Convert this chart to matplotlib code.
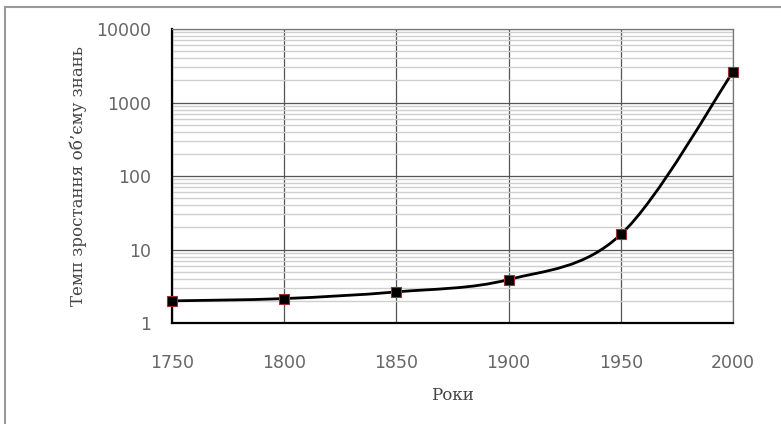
import numpy as np
import matplotlib
matplotlib.use('Agg')
import matplotlib.pyplot as plt
from matplotlib.path import Path
from matplotlib.patches import PathPatch
from matplotlib.lines import Line2D

years = [1750, 1800, 1850, 1900, 1950, 2000]
rate = [2.0, 2.15, 2.65, 3.9, 16.0, 2600.0]
xticks = [1750, 1800, 1850, 1900, 1950, 2000]
yticks = [1, 10, 100, 1000, 10000]
xlabel = 'Роки'
ylabel = 'Темп зростання об\u2019єму знань'

fig = plt.figure(figsize=(7.81, 4.24), dpi=100)
ax = fig.add_axes([0.2202, 0.2382, 0.9385 - 0.2202, 0.9316 - 0.2382])
ax.set_yscale('log')
ax.set_xlim(1750, 2000)
ax.set_ylim(1, 10000)

# grid
ax.set_xticks(xticks)
ax.set_yticks(yticks)
ax.set_yticklabels([str(v) for v in yticks])
ax.yaxis.set_minor_locator(matplotlib.ticker.LogLocator(base=10, subs=np.arange(2, 10)))
ax.yaxis.set_minor_formatter(matplotlib.ticker.NullFormatter())
ax.grid(True, which='major', axis='both', color='#555555', lw=0.9)
ax.grid(True, which='minor', axis='y', color='#cfcfcf', lw=1.0)
ax.set_axisbelow(True)
ax.tick_params(which='minor', length=0)
ax.tick_params(which='major', length=0, pad=15, labelsize=12.5)
ax.tick_params(axis='x', pad=22)
for t in ax.get_xticklabels() + ax.get_yticklabels():
    t.set_fontfamily('DejaVu Sans')
    t.set_color('#666666')

for s in ['top', 'right']:
    ax.spines[s].set_color('#777777')
    ax.spines[s].set_linewidth(0.9)
for s in ['left', 'bottom']:
    ax.spines[s].set_color('black')
    ax.spines[s].set_linewidth(1.6)

# smoothed line (Bezier in x / log-y space)
px = np.array(years, dtype=float)
py = np.log10(np.array(rate))
n = len(px)
verts = [(px[0], py[0])]
codes = [Path.MOVETO]
for i in range(n - 1):
    i0 = max(i - 1, 0)
    i3 = min(i + 2, n - 1)
    c1 = (px[i] + (px[i + 1] - px[i0]) / 6, py[i] + (py[i + 1] - py[i0]) / 6)
    c2 = (px[i + 1] - (px[i3] - px[i]) / 6, py[i + 1] - (py[i3] - py[i]) / 6)
    verts += [c1, c2, (px[i + 1], py[i + 1])]
    codes += [Path.CURVE4] * 3
verts = [(x, 10 ** y) for x, y in verts]
ax.add_patch(PathPatch(Path(verts, codes), fill=False, edgecolor='black', lw=2.0,
                       clip_on=False, zorder=3))
ax.plot(years, rate, ls='none', marker='s', ms=7, mfc='black', mec='#a03030',
        mew=0.8, clip_on=False, zorder=4)

ax.set_xlabel(xlabel, fontfamily='DejaVu Serif', fontsize=12, color='#444444')
ax.set_ylabel(ylabel, fontfamily='DejaVu Serif', fontsize=12, color='#444444')
ax.xaxis.set_label_coords(0.5, -0.245)
ax.yaxis.set_label_coords(-0.1676, 0.5)
ax.xaxis.label.set_va('center')
ax.yaxis.label.set_va('center')

# outer chart frame
fig.add_artist(Line2D([5 / 781, 5 / 781], [0, 1 - 7 / 424], transform=fig.transFigure,
                      color='#999999', lw=1.5))
fig.add_artist(Line2D([5 / 781, 1], [1 - 7 / 424, 1 - 7 / 424], transform=fig.transFigure,
                      color='#999999', lw=1.5))

fig.savefig('out.png', dpi=100)
